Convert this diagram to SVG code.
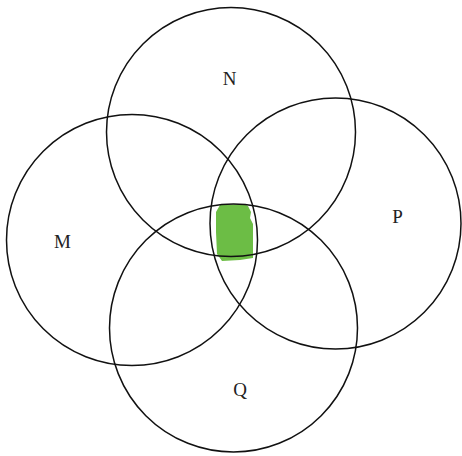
<svg xmlns="http://www.w3.org/2000/svg" width="462" height="456" viewBox="0 0 462 456">
<style>
.c{fill:none;stroke:#111;stroke-width:1.5}
.t{font-family:"Liberation Serif","Times New Roman",serif;font-size:19px;fill:#222;text-anchor:middle}
</style>
<rect width="462" height="456" fill="#fff"/>
<path d="M220,205 L244,204 L248,206 L251,212 L250,218 L253,224 L253,258 L240,260 L222,261 L217,254 L216,232 L216,212 Z" fill="#6cbd45"/>
<g id="N"><circle class="c" cx="231" cy="132" r="124.5"/><text class="t" x="229.5" y="85">N</text></g>
<g id="M"><circle class="c" cx="132" cy="240" r="125.5"/><text class="t" x="62.5" y="248">M</text></g>
<g id="P"><circle class="c" cx="335.5" cy="223.5" r="125.5"/><text class="t" x="397.5" y="223">P</text></g>
<g id="Q"><circle class="c" cx="233.5" cy="328" r="124"/><text class="t" x="240" y="396">Q</text></g>
</svg>
